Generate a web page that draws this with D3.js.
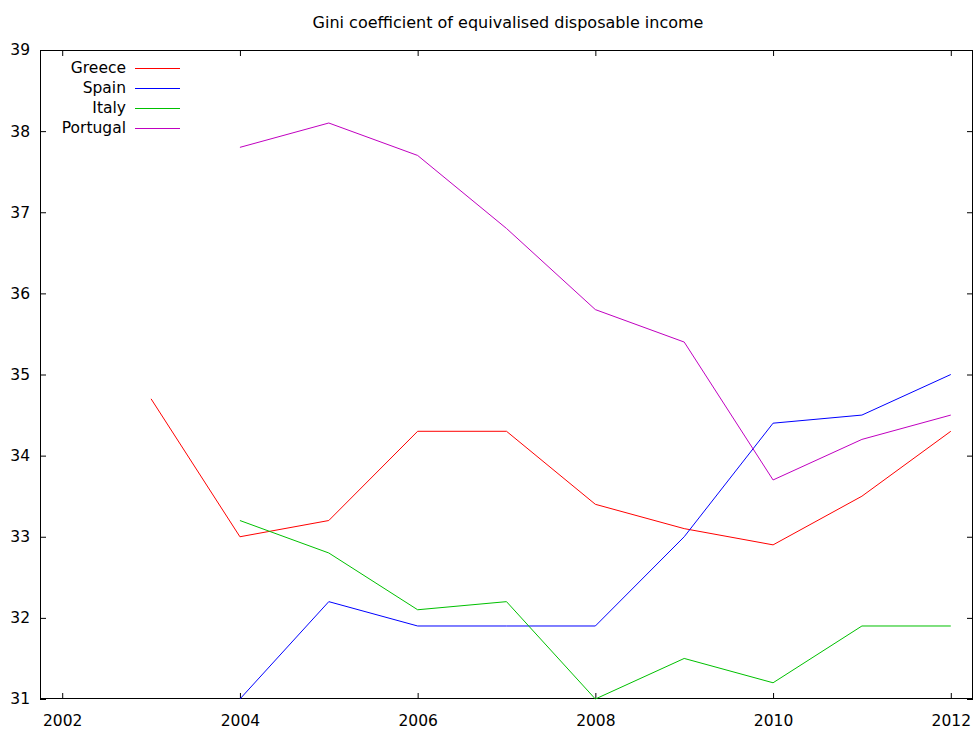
<!DOCTYPE html>
<html><head><meta charset="utf-8">
<script src="https://cdn.jsdelivr.net/npm/d3@7"></script>
<style>body{margin:0;background:#fff}svg{display:block}text{font-family:"DejaVu Sans",sans-serif;fill:#000}</style>
</head><body>
<script>
const years = [2003,2004,2005,2006,2007,2008,2009,2010,2011,2012];
const greece   = [34.7,33.0,33.2,34.3,34.3,33.4,33.1,32.9,33.5,34.3];
const spain    = [null,31.0,32.2,31.9,31.9,31.9,33.0,34.4,34.5,35.0];
const italy    = [null,33.2,32.8,32.1,32.2,31.0,31.5,31.2,31.9,31.9];
const portugal = [null,37.8,38.1,37.7,36.8,35.8,35.4,33.7,34.2,34.5];
const seriesNames = ["Greece","Spain","Italy","Portugal"];
const seriesColors = ["#ff0000","#0000ff","#00c000","#c000c0"];
const xTicks = [2002,2004,2006,2008,2010,2012];
const yTicks = [31,32,33,34,35,36,37,38,39];
const title = "Gini coefficient of equivalised disposable income";

const W=977,H=731;
const m={l:40,r:4,t:50,b:32};
const svg=d3.select("body").append("svg").attr("width",W).attr("height",H);
const x=d3.scaleLinear().domain([2001.75,2012.25]).range([m.l,W-m.r]);
const y=d3.scaleLinear().domain([31,39]).range([H-m.b,m.t]);

svg.append("text").attr("x",508).attr("y",28).attr("text-anchor","middle").style("font-size","16px").text(title);

const tl=6;
const axB=svg.append("g").attr("transform",`translate(0,${H-m.b})`).call(d3.axisBottom(x).tickValues(xTicks).tickFormat(d3.format("d")).tickSize(-tl).tickPadding(16));
const axT=svg.append("g").attr("transform",`translate(0,${m.t})`).call(d3.axisTop(x).tickValues(xTicks).tickFormat("").tickSize(-tl));
const axL=svg.append("g").attr("transform",`translate(${m.l},0)`).call(d3.axisLeft(y).tickValues(yTicks).tickFormat(d3.format("d")).tickSize(-tl).tickPadding(10));
const axR=svg.append("g").attr("transform",`translate(${W-m.r},0)`).call(d3.axisRight(y).tickValues(yTicks).tickFormat("").tickSize(-tl));
[axB,axT,axL,axR].forEach(a=>{a.select(".domain").remove();a.selectAll("text").style("font-size","15.5px").attr("font-family","DejaVu Sans");a.selectAll("line").attr("stroke","#000");});
svg.append("rect").attr("x",m.l+0.5).attr("y",m.t+0.5).attr("width",W-m.r-m.l-1).attr("height",H-m.b-m.t-1).attr("fill","none").attr("stroke","#000");

const data=[greece,spain,italy,portugal];
const line=d3.line().defined(d=>d[1]!=null).x(d=>x(d[0])).y(d=>y(d[1]));
data.forEach((s,i)=>{
  svg.append("path").datum(years.map((yr,j)=>[yr,s[j]])).attr("d",line).attr("fill","none").attr("stroke",seriesColors[i]).attr("stroke-width",1);
});

const lg=svg.append("g");
seriesNames.forEach((n,i)=>{
  const yy=68+i*20;
  lg.append("text").attr("x",126).attr("y",yy).attr("dy","0.35em").attr("text-anchor","end").style("font-size","15.5px").text(n);
  lg.append("line").attr("x1",135).attr("x2",180).attr("y1",yy+0.5).attr("y2",yy+0.5).attr("stroke",seriesColors[i]);
});
</script>
</body></html>
